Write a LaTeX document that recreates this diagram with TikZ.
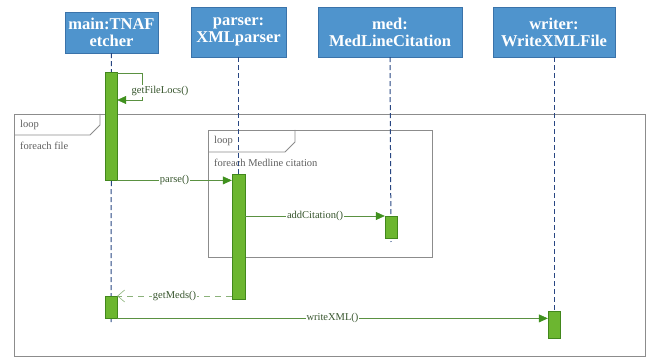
\documentclass[tikz,border=0pt]{standalone}
\usepackage{fontspec}
\setmainfont{Liberation Serif}
\usetikzlibrary{arrows.meta, positioning, calc}
\definecolor{objblue}{RGB}{79,148,205}
\definecolor{objborder}{RGB}{58,115,170}
\definecolor{actgreen}{RGB}{108,182,48}
\definecolor{actborder}{RGB}{66,135,28}
\definecolor{msggreen}{RGB}{90,145,65}
\definecolor{tipgreen}{RGB}{64,145,30}
\definecolor{lifeblue}{RGB}{40,70,130}
\definecolor{framegray}{RGB}{140,140,140}
\definecolor{textgray}{RGB}{95,95,95}
\definecolor{msgtext}{RGB}{55,85,45}

\tikzset{
    obj/.style={fill=objblue, draw=objborder, text=white, align=center, inner sep=0pt,
        font=\fontsize{16.5}{17}\selectfont\bfseries},
    act/.style={fill=actgreen, draw=actborder, minimum width=12, inner sep=0pt, anchor=north},
    lifeline/.style={lifeblue, line width=1pt, dash pattern=on 5pt off 3pt},
    msg/.style={msggreen, semithick, -{Triangle[length=9pt,width=8pt,fill=tipgreen,color=tipgreen]}},
    reply/.style={msggreen!70, semithick, dash pattern=on 6pt off 5pt, -{Straight Barb[length=7pt,width=12pt]}},
    msglabel/.style={fill=white, text=msgtext, inner sep=1pt, font=\fontsize{10.5}{12}\selectfont},
    fragment/.style={framegray, thick},
    fraglabel/.style={text=textgray, anchor=west, inner sep=0pt, font=\fontsize{10.5}{12}\selectfont}
}

\begin{document}
\begin{tikzpicture}[x=1pt, y=-1pt]
    \useasboundingbox (0,0) rectangle (654,358);

    % Loop frames
    \draw[fragment] (14,114) rectangle (645,356);
    \draw[fragment] (14,135) -- (90,135) -- (100,125) -- (100,114);
    \node[fraglabel] (outerloop) at (20,125) {loop};
    \node[fraglabel] (outerguard) at (20,146) {foreach file};

    \draw[fragment] (208,130) rectangle (432,257);
    \draw[fragment] (208,152) -- (285,152) -- (295,142) -- (295,130);
    \node[fraglabel] (innerloop) at (214,141) {loop};
    \node[fraglabel] (innerguard) at (214,163) {foreach Medline citation};

    % Objects
    \node[obj, minimum width=93, minimum height=41] (main) at (111.5,32.5) {main:TNAF\\etcher};
    \node[obj, minimum width=95, minimum height=50] (parser) at (238.5,32) {parser:\\XMLparser};
    \node[obj, minimum width=144, minimum height=50] (med) at (390,32) {med:\\MedLineCitation};
    \node[obj, minimum width=122, minimum height=50] (writer) at (554,32) {writer:\\WriteXMLFile};

    % Lifelines
    \coordinate (mainend) at (111,323);
    \coordinate (medend) at (391,242);
    \draw[lifeline] (main.south) -- (mainend);
    \draw[lifeline] (med.south) -- (medend);

    % Activations
    \node[act, minimum height=108] (mainA1) at (111,72) {};
    \node[act, minimum height=22] (mainA2) at (111,296) {};
    \node[act, minimum height=125, minimum width=13] (parserA) at (238.5,174) {};
    \node[act, minimum height=22] (medA) at (391,216) {};
    \node[act, minimum height=27] (writerA) at (554,311) {};
    \draw[lifeline] (parser.south) -- (parserA.north);
    \draw[lifeline] (writer.south) -- (writerA.north);

    % Messages
    \draw[msg] ([yshift=-1pt]mainA1.north east) -- (142,73) -- (142,100) -- (mainA1.east |- 0,100);
    \node[msglabel] (locs) at (160,91) {getFileLocs()};

    \draw[msg] (mainA1.south east) -- (mainA1.south east -| parserA.west)
        node[msglabel, midway] {parse()};
    \draw[msg] (medA.north west -| parserA.east) -- (medA.north west)
        node[msglabel, midway] {addCitation()};
    \draw[reply] (mainA2.north east -| parserA.west) -- (mainA2.north east)
        node[msglabel, midway] {getMeds()};
    \draw[msg] (mainA2.south east) -- (mainA2.south east -| writerA.west)
        node[msglabel, midway] {writeXML()};
\end{tikzpicture}
\end{document}
